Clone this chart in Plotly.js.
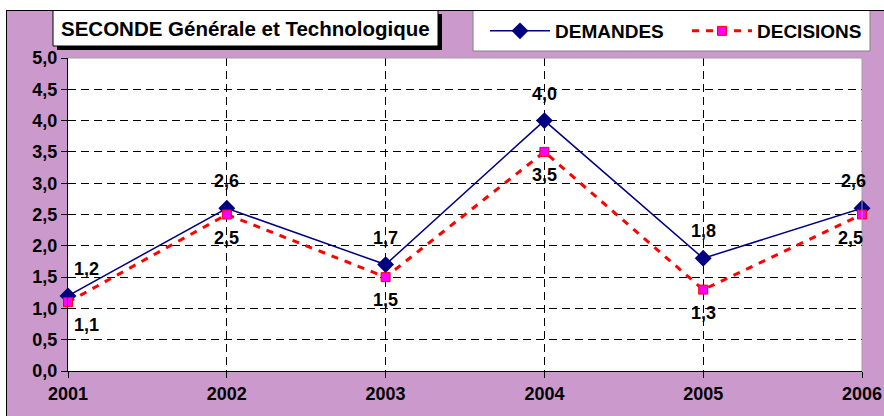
<!DOCTYPE html>
<html><head><meta charset="utf-8">
<script src="https://cdn.plot.ly/plotly-3.0.1.min.js"></script>
<style>
html,body{margin:0;padding:0;background:#fff;width:884px;height:416px;overflow:hidden;}
#frame{position:absolute;left:6px;top:10px;width:878px;height:406px;border-left:1px solid #000;border-top:1px solid #000;box-sizing:border-box;background:#CC99CC;}
#chart{position:absolute;left:0;top:0;width:877px;height:405px;}
</style></head><body>
<div id="frame"><div id="chart"></div></div>
<script>
const years = [2001, 2002, 2003, 2004, 2005, 2006];
const demandes = [1.2, 2.6, 1.7, 4.0, 1.8, 2.6];
const decisions = [1.1, 2.5, 1.5, 3.5, 1.3, 2.5];
const seriesNames = ['DEMANDES', 'DECISIONS'];
const chartTitle = 'SECONDE Générale et Technologique';

const FONT = '"Liberation Sans", Arial, sans-serif';
const W = 877, H = 405;
const M = {l: 61, r: 22, t: 47, b: 45, autoexpand: false};
const PW = W - M.l - M.r, PH = H - M.t - M.b;
const px = cx => (cx - M.l) / PW;
const py = cy => (H - M.b - cy) / PH;
const fmt = v => v.toFixed(1).replace('.', ',');

const traces = [
  {x: years, y: demandes, name: seriesNames[0], type: 'scatter', mode: 'lines+markers', cliponaxis: false,
   line: {color: '#000080', width: 1.5},
   marker: {symbol: 'diamond', size: 13, color: '#000080'}},
  {x: years, y: decisions, name: seriesNames[1], type: 'scatter', mode: 'lines+markers', cliponaxis: false,
   line: {color: '#FF0000', width: 3, dash: '7px,7px'},
   marker: {symbol: 'square', size: 9, color: '#FF00FF', line: {color: '#FF0000', width: 1}}}
];

const labFont = {family: FONT, size: 18, color: '#000', weight: 'bold'};
const annotations = [];
const last = years.length - 1;
years.forEach((yr, i) => {
  annotations.push({x: yr, y: demandes[i], xref: 'x', yref: 'y', text: fmt(demandes[i]), showarrow: false,
    font: labFont, yshift: 27, xshift: i === 0 ? 18 : (i === last ? -9 : 0)});
  annotations.push({x: yr, y: decisions[i], xref: 'x', yref: 'y', text: fmt(decisions[i]), showarrow: false,
    font: labFont, yshift: -23, xshift: i === 0 ? 18 : (i === last ? -12 : 0)});
});
annotations.push({x: px(238.5), y: py(17), xref: 'paper', yref: 'paper', xanchor: 'center', yanchor: 'middle',
  text: chartTitle, showarrow: false,
  font: {family: FONT, size: 20.5, color: '#000', weight: 'bold'}});

const shapes = [
  {type: 'rect', xref: 'paper', yref: 'paper', x0: px(50), x1: px(435), y0: py(39), y1: py(3), fillcolor: '#000', line: {width: 0}, layer: 'above'},
  {type: 'rect', xref: 'paper', yref: 'paper', x0: px(46), x1: px(431), y0: py(35), y1: py(-1), fillcolor: '#fff', line: {color: '#000', width: 1}, layer: 'above'},
  {type: 'rect', xref: 'paper', yref: 'paper', x0: px(466), x1: px(863), y0: py(40), y1: py(-1), fillcolor: '#fff', line: {color: '#808080', width: 1}, layer: 'below'},
  {type: 'line', xref: 'paper', yref: 'paper', x0: 0, x1: 1, y0: 1, y1: 1, line: {color: '#A0A0A0', width: 1}, layer: 'above'},
  {type: 'line', xref: 'paper', yref: 'paper', x0: 1, x1: 1, y0: 0, y1: 1, line: {color: '#A0A0A0', width: 1}, layer: 'above'}
];

const tickFont = {family: FONT, size: 18, color: '#000', weight: 'bold'};
const layout = {
  width: W, height: H,
  margin: M,
  paper_bgcolor: 'rgba(0,0,0,0)',
  plot_bgcolor: '#fff',
  separators: ', ',
  showlegend: true,
  legend: {orientation: 'h', xref: 'container', yref: 'container', x: 478 / W, y: 1 - 20 / H, xanchor: 'left', yanchor: 'middle',
    bgcolor: 'rgba(0,0,0,0)', borderwidth: 0, itemwidth: 60, entrywidth: 127, entrywidthmode: 'pixels',
    font: {family: FONT, size: 19, color: '#000', weight: 'bold'}},
  xaxis: {range: [2001, 2006], dtick: 1, tick0: 2001, tickformat: 'd', showline: true, linecolor: '#000', linewidth: 1,
    ticks: 'outside', ticklen: 6, tickcolor: '#000', tickfont: tickFont, showgrid: true, gridcolor: '#000',
    griddash: '8px,5px', gridwidth: 1, zeroline: false, fixedrange: true},
  yaxis: {range: [0, 5], dtick: 0.5, tick0: 0, tickformat: '.1f', showline: true, linecolor: '#000', linewidth: 1,
    ticks: 'outside', ticklen: 6, tickcolor: '#000', tickfont: tickFont, showgrid: true, gridcolor: '#000',
    griddash: '8px,5px', gridwidth: 1, zeroline: false, fixedrange: true},
  annotations: annotations,
  shapes: shapes
};
Plotly.newPlot('chart', traces, layout, {staticPlot: true, displayModeBar: false});
</script>
</body></html>
